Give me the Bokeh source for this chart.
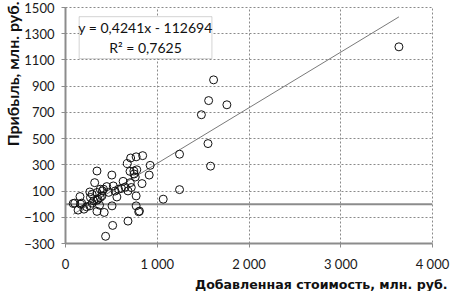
from bokeh.plotting import figure
from bokeh.models import Range1d, FixedTicker, Label, BoxAnnotation, ColumnDataSource, Title
from bokeh.embed import file_html
from bokeh.resources import INLINE

# Data (x: value added, y: profit, mln rub.)
added_value = [3634, 1614, 1560, 1759, 1481, 1553, 1243, 1581, 1243, 1065,
               923, 912, 834, 841, 806, 770, 710, 674, 745, 777,
               343, 505, 760, 628, 318, 706, 450, 578, 681, 717,
               379, 343, 265, 272, 158, 560, 379, 307, 290, 101,
               176, 343, 137, 201, 343, 422, 507, 770, 798, 681,
               514, 437, 84, 403, 354, 265, 770, 230, 290, 371,
               397, 414, 521, 610, 470, 650, 540, 165, 747, 703]
profit = [1200, 948, 790, 758, 682, 462, 381, 290, 111, 38,
          296, 222, 157, 370, -53, 361, 352, 310, 253, 262,
          253, 222, 207, 174, 164, 164, 134, 114, 101, 127,
          114, 89, 93, 51, 58, 55, 51, 25, 8, 8,
          8, 30, -45, -38, -55, -63, -13, -13, -58, -129,
          -162, -245, 5, 101, 38, -13, 63, -20, 76, -8,
          63, 114, 139, 120, 90, 130, 100, 0, 230, 250]

slope = 0.4241
intercept = -112.694
equation_text = "y = 0,4241x - 112694"
r2_text = "R\u00b2 = 0,7625"

x_ticks = [0, 1000, 2000, 3000, 4000]
x_tick_labels = ["0", "1\u00a0000", "2\u00a0000", "3\u00a0000", "4\u00a0000"]
y_ticks = [-300, -100, 100, 300, 500, 700, 900, 1100, 1300, 1500]

x_title = "Добавленная стоимость, млн. руб."
y_title = "Прибыль, млн. руб."

FONT = "Lato"
GRID = "#8a8a8a"
AXIS = "#8c8c8c"

p = figure(width=454, height=291, output_backend="svg", toolbar_location=None,
           x_range=Range1d(0, 4000), y_range=Range1d(-300, 1500),
           min_border_left=0, min_border_right=22, min_border_top=7, min_border_bottom=0)
p.outline_line_color = GRID
p.outline_line_dash = "2 2"
p.outline_line_width = 1
p.background_fill_color = "white"
p.border_fill_color = "white"

for ax in (p.xaxis[0], p.yaxis[0]):
    ax.axis_line_color = AXIS
    ax.axis_line_width = 2
    ax.major_tick_line_color = AXIS
    ax.major_tick_out = 4
    ax.major_tick_in = 0
    ax.minor_tick_line_color = None
    ax.major_label_text_font = FONT
    ax.major_label_text_font_size = "13px"
    ax.major_label_text_color = "#1a1a1a"

p.xaxis.ticker = FixedTicker(ticks=x_ticks)
p.xaxis.major_label_overrides = {t: l for t, l in zip(x_ticks, x_tick_labels)}
p.xaxis.major_label_standoff = 8
p.yaxis.ticker = FixedTicker(ticks=y_ticks)
p.yaxis.major_label_standoff = 7

p.xgrid.ticker = FixedTicker(ticks=x_ticks)
p.ygrid.ticker = FixedTicker(ticks=y_ticks)
for g in (p.xgrid[0], p.ygrid[0]):
    g.grid_line_color = GRID
    g.grid_line_dash = "2 2"
    g.grid_line_width = 1

# zero line
p.line(x=[x_ticks[0], x_ticks[-1]], y=[0, 0], line_color=AXIS, line_width=2)

# trend line over the data range
x0, x1 = min(added_value), max(added_value)
p.line(x=[x0, x1], y=[slope * x0 + intercept, slope * x1 + intercept],
       line_color="#7a7a7a", line_width=1)

src = ColumnDataSource(dict(x=added_value, y=profit))
p.scatter("x", "y", source=src, size=8, fill_alpha=0, line_color="#111111", line_width=1)

# equation box
p.add_layout(BoxAnnotation(left=149, right=1596, top=1430, bottom=1110,
                           fill_color="white", fill_alpha=1,
                           line_color="#6e6e6e", line_width=1))
p.add_layout(Label(x=872, y=1348, text=equation_text, text_align="center",
                   text_baseline="middle", text_font=FONT,
                   text_font_size="14px", text_color="#111111"))
p.add_layout(Label(x=872, y=1196, text=r2_text, text_align="center",
                   text_baseline="middle", text_font=FONT,
                   text_font_size="14px", text_color="#111111"))

# axis titles
p.add_layout(Title(text=y_title, align="right", text_font=FONT, text_font_size="16px",
                   text_font_style="bold", text_color="#111111", standoff=0, offset=-6), "left")
p.add_layout(Title(text=x_title, align="right", text_font="DejaVu Sans", text_font_size="12.6px",
                   text_font_style="bold", text_color="#111111", standoff=0, offset=-15), "below")

open("out.html", "w").write(file_html(p, INLINE))
